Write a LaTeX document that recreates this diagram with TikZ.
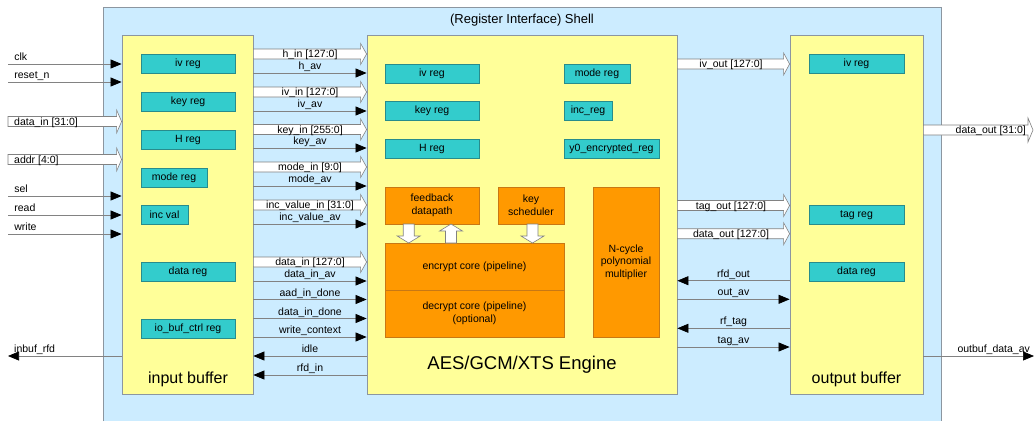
\documentclass[tikz,border=0pt]{standalone}
\usepackage{fontspec}
\setmainfont{Liberation Sans}
\usetikzlibrary{arrows.meta,calc}
\definecolor{shellfill}{RGB}{204,236,255}
\definecolor{shellline}{RGB}{140,150,160}
\definecolor{bufill}{RGB}{255,255,153}
\definecolor{regfill}{RGB}{51,204,204}
\definecolor{regline}{RGB}{40,140,140}
\definecolor{orfill}{RGB}{255,153,0}
\definecolor{orline}{RGB}{200,120,20}
\definecolor{wire}{RGB}{130,130,130}
\newcommand\busR[5]{%
  \draw[bus] (#1 |- 0,#3-5) -- ($(#2 |- 0,#3-5)+(-#5,0)$) -- ($(#2 |- 0,#3-#4)+(-#5,0)$) -- (#2 |- 0,#3) -- ($(#2 |- 0,#3+#4)+(-#5,0)$) -- ($(#2 |- 0,#3+5)+(-#5,0)$) -- (#1 |- 0,#3+5) -- cycle;}
\newcommand\busV[4]{%
  \draw[bus] (#1-5.5,#2) -- (#1+5.5,#2) -- (#1+5.5,#4) -- (#1+11.5,#4) -- (#1,#3) -- (#1-11.5,#4) -- (#1-5.5,#4) -- cycle;}
\tikzset{
  buf/.style={draw=shellline, fill=bufill, inner sep=0, line width=0.8pt},
  reg/.style={draw=regline, fill=regfill, inner sep=0, minimum height=19pt, line width=0.7pt, font=\fontsize{10.5}{12}\selectfont},
  orb/.style={draw=orline, fill=orfill, inner sep=0, align=center, line width=0.7pt, font=\fontsize{10.5}{12.7}\selectfont},
  bus/.style={draw=wire, fill=white, line width=0.6pt},
  sig/.style={draw=wire, line width=0.7pt, -{Triangle[length=11pt,width=9pt,color=black]}},
  lbl/.style={font=\fontsize{10.5}{12}\selectfont, inner sep=0},
  mid/.style={lbl, midway, anchor=base, yshift=3.5pt},
  lft/.style={lbl, pos=0, anchor=base west, xshift=6pt, yshift=3.3pt}
}
\begin{document}
\begin{tikzpicture}[x=1pt,y=-1pt]
\useasboundingbox (0,0) rectangle (1034,421);
% shell
\fill[shellfill] (103,7) rectangle (941,421);
\draw[shellline, line width=0.8pt] (103,421) -- (103,7) -- (941,7) -- (941,421);
\node[font=\fontsize{13}{15}\selectfont] (title) at (522,20.5) {(Register Interface) Shell};
% buffers
\node[buf, minimum width=131pt, minimum height=359pt] (ib) at (187.5,214.5) {};
\node[buf, minimum width=310pt, minimum height=359pt] (eng) at (522,214.5) {};
\node[buf, minimum width=133pt, minimum height=359pt] (ob) at (856.5,214.5) {};
\node[font=\fontsize{16}{18}\selectfont] (iblbl) at (188,379) {input buffer};
\node[font=\fontsize{18.5}{20}\selectfont] (englbl) at (522,365) {AES/GCM/XTS Engine};
\node[font=\fontsize{16}{18}\selectfont] (oblbl) at (856.5,379) {output buffer};
% input buffer registers
\node[reg, minimum width=94pt] (iiv) at (188,63.5) {iv reg};
\node[reg, minimum width=94pt] (ikey) at (188,101.5) {key reg};
\node[reg, minimum width=94pt] (ih) at (188,139.5) {H reg};
\node[reg, minimum width=66pt] (imode) at (174,177.5) {mode reg};
\node[reg, minimum width=47pt] (iinc) at (164.5,214.5) {inc val};
\node[reg, minimum width=94pt] (idata) at (188,271.5) {data reg};
\node[reg, minimum width=94pt] (iio) at (188,328.5) {io\_buf\_ctrl reg};
% engine registers
\node[reg, minimum width=94pt] (eiv) at (432,73.5) {iv reg};
\node[reg, minimum width=94pt] (ekey) at (432,111) {key reg};
\node[reg, minimum width=94pt] (eh) at (432,149) {H reg};
\node[reg, minimum width=66pt] (emode) at (597,73.5) {mode reg};
\node[reg, minimum width=48pt] (einc) at (588,111) {inc\_reg};
\node[reg, minimum width=95pt] (ey0) at (611.5,149) {y0\_encrypted\_reg};
% engine blocks
\node[orb, minimum width=94pt, minimum height=37pt] (fb) at (432,205.5) {feedback\\datapath};
\node[orb, minimum width=66pt, minimum height=37pt] (ks) at (531,205.5) {key\\scheduler};
\node[orb, minimum width=66pt, minimum height=150pt] (mul) at (626,262) {N-cycle\\polynomial\\multiplier};
\node[orb, minimum width=179pt, minimum height=47pt] (enc) at (474.5,266.5) {encrypt core (pipeline)};
\node[orb, minimum width=179pt, minimum height=47pt] (dec) at (474.5,313.5) {decrypt core (pipeline)\\(optional)};
\busV{408.7}{224}{243}{236}
\busV{451}{243}{224}{231}
\busV{532.5}{224}{243}{236}
% output buffer registers
\node[reg, minimum width=95pt] (oiv) at (856.5,63.8) {iv reg};
\node[reg, minimum width=95pt] (otag) at (856.5,215) {tag reg};
\node[reg, minimum width=95pt] (odata) at (856.5,271.7) {data reg};
% left side inputs
\coordinate (L) at (8,0);
\draw[sig] (L |- 0,64) -- (ib.west |- 0,64) node[lft] (lclk) {clk};
\draw[sig] (L |- 0,82) -- (ib.west |- 0,82) node[lft] (lrst) {reset\_n};
\busR{L}{ib.west}{121.5}{11.5}{5}
\node[lbl, anchor=base west] (ldin) at (14,125.1) {data\_in [31:0]};
\busR{L}{ib.west}{159.5}{11.5}{5}
\node[lbl, anchor=base west] (laddr) at (14,163.1) {addr [4:0]};
\draw[sig] (L |- 0,196) -- (ib.west |- 0,196) node[lft] (lsel) {sel};
\draw[sig] (L |- 0,215) -- (ib.west |- 0,215) node[lft] (lread) {read};
\draw[sig] (L |- 0,234) -- (ib.west |- 0,234) node[lft] (lwrite) {write};
\draw[sig] (ib.west |- 0,356) -- (L |- 0,356);
\node[lbl, anchor=base west] (lrfd) at (14,352.6) {inbuf\_rfd};
% input buffer -> engine
\busR{ib.east}{eng.west}{54}{10.5}{6}
\node[lbl, anchor=base] (lhin) at (310,57.6) {h\_in [127:0]};
\draw[sig] (ib.east |- 0,73) -- (eng.west |- 0,73) node[mid] (lhav) {h\_av};
\busR{ib.east}{eng.west}{92}{10.5}{6}
\node[lbl, anchor=base] (livin) at (310,95.6) {iv\_in [127:0]};
\draw[sig] (ib.east |- 0,111) -- (eng.west |- 0,111) node[mid] (livav) {iv\_av};
\busR{ib.east}{eng.west}{129.5}{10.5}{6}
\node[lbl, anchor=base] (lkeyin) at (310,133.1) {key\_in [255:0]};
\draw[sig] (ib.east |- 0,148) -- (eng.west |- 0,148) node[mid] (lkeyav) {key\_av};
\busR{ib.east}{eng.west}{167}{10.5}{6}
\node[lbl, anchor=base] (lmodein) at (310,170.6) {mode\_in [9:0]};
\draw[sig] (ib.east |- 0,186) -- (eng.west |- 0,186) node[mid] (lmodeav) {mode\_av};
\busR{ib.east}{eng.west}{205}{10.5}{6}
\node[lbl, anchor=base] (lincin) at (310,208.6) {inc\_value\_in [31:0]};
\draw[sig] (ib.east |- 0,224) -- (eng.west |- 0,224) node[mid] (lincav) {inc\_value\_av};
\busR{ib.east}{eng.west}{262}{10.5}{6}
\node[lbl, anchor=base] (ldatain) at (310,265.6) {data\_in [127:0]};
\draw[sig] (ib.east |- 0,281) -- (eng.west |- 0,281) node[mid] (ldinav) {data\_in\_av};
\draw[sig] (ib.east |- 0,299.5) -- (eng.west |- 0,299.5) node[mid] (laad) {aad\_in\_done};
\draw[sig] (ib.east |- 0,318.5) -- (eng.west |- 0,318.5) node[mid] (ldind) {data\_in\_done};
\draw[sig] (ib.east |- 0,337) -- (eng.west |- 0,337) node[mid] (lwc) {write\_context};
\draw[sig] (eng.west |- 0,356) -- (ib.east |- 0,356) node[mid] (lidle) {idle};
\draw[sig] (eng.west |- 0,375) -- (ib.east |- 0,375) node[mid] (lrfdin) {rfd\_in};
% engine -> output buffer
\busR{eng.east}{ob.west}{64}{11}{6}
\node[lbl, anchor=base] (livout) at (731,67.6) {iv\_out [127:0]};
\busR{eng.east}{ob.west}{205.5}{11}{6}
\node[lbl, anchor=base] (ltagout) at (731,209.1) {tag\_out [127:0]};
\busR{eng.east}{ob.west}{233.7}{11}{6}
\node[lbl, anchor=base] (ldout) at (731,237.3) {data\_out [127:0]};
\draw[sig] (ob.west |- 0,280.7) -- (eng.east |- 0,280.7) node[mid] (lrfdout) {rfd\_out};
\draw[sig] (eng.east |- 0,299.3) -- (ob.west |- 0,299.3) node[mid] (loutav) {out\_av};
\draw[sig] (ob.west |- 0,328.3) -- (eng.east |- 0,328.3) node[mid] (lrftag) {rf\_tag};
\draw[sig] (eng.east |- 0,347) -- (ob.west |- 0,347) node[mid] (ltagav) {tag\_av};
% right side outputs
\coordinate (R) at (1033,0);
\busR{ob.east}{R}{130}{12}{5}
\node[lbl, anchor=base east] (ldout32) at (1026,133.6) {data\_out [31:0]};
\coordinate (R2) at (1034,0);
\draw[sig] (ob.east |- 0,356) -- (R2 |- 0,356);
\node[lbl, anchor=base] (lobav) at (993.7,352.5) {outbuf\_data\_av};
\end{tikzpicture}
\end{document}
